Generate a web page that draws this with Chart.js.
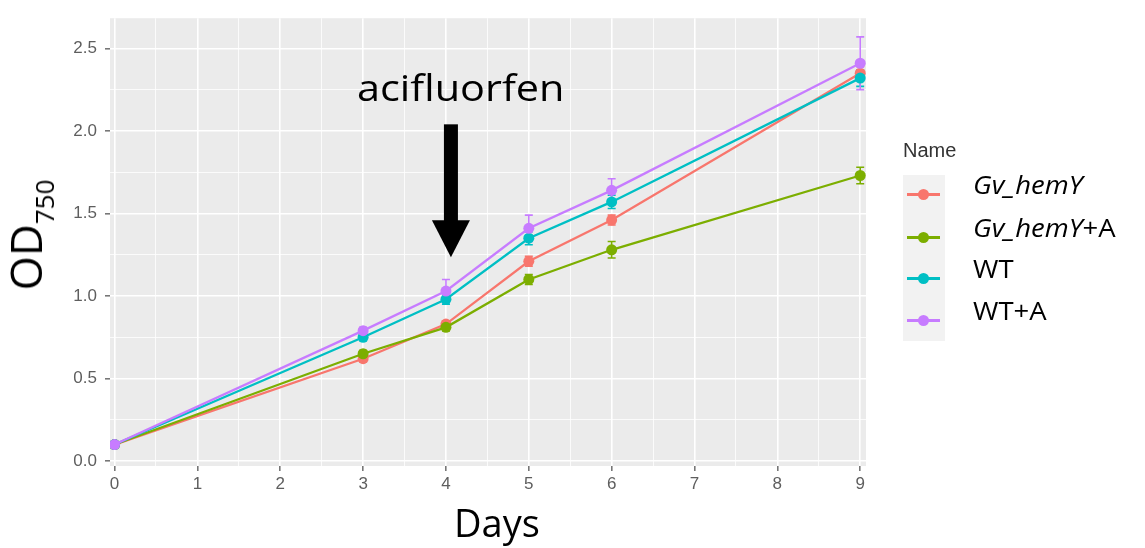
<!DOCTYPE html>
<html>
<head>
<meta charset="utf-8">
<script src="https://cdn.jsdelivr.net/npm/chart.js@4.4.1/dist/chart.umd.min.js"></script>
<style>
body { margin: 0; background: #fff; }
#wrap { position: relative; width: 1145px; height: 548px; }
.txt { position: absolute; font-family: 'Open Sans', sans-serif; color: #000; white-space: nowrap; line-height: 1; }
#note { left: 357px; top: 70px; font-size: 36px; transform: scaleX(1.15); transform-origin: left top; }
#xtitle { left: 454px; top: 503px; font-size: 38px; }
#ytitle { left: 30px; top: 235px; font-size: 44px; transform: translate(-50%, -50%) rotate(-90deg); }
#ytitle sub { font-size: 26px; vertical-align: -12px; }
#legtitle { left: 903px; top: 140px; font-family: 'Liberation Sans', sans-serif; font-size: 20px; color: #333; }
#keybox { position: absolute; left: 903px; top: 175px; width: 42px; height: 166px; background: #f2f2f2; }
.key { position: absolute; left: 907px; width: 33px; height: 10px; }
.key .ln { position: absolute; left: 0; top: 4px; width: 33px; height: 2.5px; }
.key .dt { position: absolute; left: 11px; top: 0; width: 11px; height: 11px; border-radius: 50%; }
.lab { position: absolute; left: 973px; font-size: 25px; transform: scaleX(1.1); transform-origin: left top; }
</style>
</head>
<body>
<div id="wrap">
  <canvas id="chart"></canvas>
  <div id="note" class="txt">acifluorfen</div>
  <div id="xtitle" class="txt">Days</div>
  <div id="ytitle" class="txt">OD<sub>750</sub></div>
  <div id="legtitle" class="txt">Name</div>
  <div id="keybox"></div>
  <div id="legend"></div>
</div>
<script>
// measurement days and tick labels
const days = [0, 3, 4, 5, 6, 9];
const xTicks = [0, 1, 2, 3, 4, 5, 6, 7, 8, 9];
const yTicks = [0, 0.5, 1, 1.5, 2, 2.5];

// OD750 means and error bar half-widths
const names = ['Gv_hemY', 'Gv_hemY+A', 'WT', 'WT+A'];
const colors = ['#F8766D', '#7CAE00', '#00BFC4', '#C77CFF'];
const hemY = [0.10, 0.62, 0.83, 1.21, 1.46, 2.35];
const hemYErr = [0.01, 0.02, 0.02, 0.03, 0.03, 0.04];
const hemYA = [0.10, 0.65, 0.81, 1.10, 1.28, 1.73];
const hemYAErr = [0.01, 0.02, 0.02, 0.03, 0.05, 0.05];
const wt = [0.10, 0.75, 0.98, 1.35, 1.57, 2.32];
const wtErr = [0.01, 0.02, 0.03, 0.04, 0.04, 0.05];
const wtA = [0.10, 0.79, 1.03, 1.41, 1.64, 2.41];
const wtAErr = [0.01, 0.02, 0.07, 0.08, 0.07, 0.16];

// acifluorfen arrow (day, OD top, OD tip)
const arrowDay = 4.06, arrowTop = 2.04, arrowTip = 1.235;

const series = [hemY, hemYA, wt, wtA];
const errs = [hemYErr, hemYAErr, wtErr, wtAErr];

const xMin = -0.055, xMax = 9.07, yMin = -0.03, yMax = 2.683;
const xGrid = xTicks.flatMap(v => [v, v + 0.5]).filter(v => v <= xMax);
const yGrid = yTicks.flatMap(v => [v, v + 0.25]).filter(v => v <= yMax);

const isMajor = (v, step) => Math.abs(v / step - Math.round(v / step)) < 1e-6;

const panelBg = {
	id: 'panelBg',
	beforeDraw(chart){
		const { ctx, chartArea: a } = chart;
		ctx.save();
		ctx.fillStyle = '#ebebeb';
		ctx.fillRect(a.left, a.top, a.right - a.left, a.bottom - a.top);
		ctx.restore();
	}
};

const errorBars = {
	id: 'errorBars',
	beforeDatasetsDraw(chart){
		const { ctx, scales: { x, y } } = chart;
		chart.data.datasets.forEach(ds => {
			ctx.save();
			ctx.strokeStyle = ds.borderColor;
			ctx.lineWidth = 1.6;
			ds.data.forEach((p, j) => {
				const e = ds.errors[j];
				const px = x.getPixelForValue(p.x);
				const top = y.getPixelForValue(p.y + e);
				const bot = y.getPixelForValue(p.y - e);
				ctx.beginPath();
				ctx.moveTo(px, top); ctx.lineTo(px, bot);
				ctx.moveTo(px - 4, top); ctx.lineTo(px + 4, top);
				ctx.moveTo(px - 4, bot); ctx.lineTo(px + 4, bot);
				ctx.stroke();
			});
			ctx.restore();
		});
	}
};

const arrow = {
	id: 'arrow',
	afterDatasetsDraw(chart){
		const { ctx, scales: { x, y } } = chart;
		const px = x.getPixelForValue(arrowDay);
		const top = y.getPixelForValue(arrowTop);
		const tip = y.getPixelForValue(arrowTip);
		const headH = 37;
		ctx.save();
		ctx.fillStyle = '#000';
		ctx.fillRect(px - 7, top, 14, tip - top - headH + 1);
		ctx.beginPath();
		ctx.moveTo(px - 19, tip - headH);
		ctx.lineTo(px + 19, tip - headH);
		ctx.lineTo(px, tip);
		ctx.closePath();
		ctx.fill();
		ctx.restore();
	}
};

const datasets = names.map((n, i) => ({
	label: n,
	data: days.map((d, j) => ({ x: d, y: series[i][j] })),
	errors: errs[i],
	borderColor: colors[i],
	backgroundColor: colors[i],
	pointBackgroundColor: colors[i],
	pointBorderWidth: 0,
	pointRadius: 5.5,
	borderWidth: 2.3,
	tension: 0,
	order: names.length - 1 - i
}));

const tickFont = { family: 'Liberation Sans', size: 17 };

new Chart(document.getElementById('chart').getContext('2d'), {
	type: 'line',
	data: { datasets },
	options: {
		responsive: true,
		maintainAspectRatio: false,
		animation: false,
		layout: { padding: { left: 0, right: 279, top: 13, bottom: 0 } },
		plugins: { legend: { display: false }, tooltip: { enabled: false } },
		scales: {
			x: {
				type: 'linear', min: xMin, max: xMax,
				afterBuildTicks: s => { s.ticks = xGrid.map(v => ({ value: v })); },
				afterFit: s => { s.height = 82; },
				border: { display: false },
				grid: {
					color: '#ffffff',
					lineWidth: c => isMajor(c.tick.value, 1) ? 1.6 : 0.8,
					tickColor: c => isMajor(c.tick.value, 1) ? '#777' : 'rgba(0,0,0,0)',
					tickLength: 5
				},
				ticks: {
					autoSkip: false, maxRotation: 0, padding: 3, color: '#5e5e5e', font: tickFont,
					callback: v => isMajor(v, 1) ? String(v) : ''
				}
			},
			y: {
				min: yMin, max: yMax,
				afterBuildTicks: s => { s.ticks = yGrid.map(v => ({ value: v })); },
				afterFit: s => { s.width = 110; },
				border: { display: false },
				grid: {
					color: '#ffffff',
					lineWidth: c => isMajor(c.tick.value, 0.5) ? 1.6 : 0.8,
					tickColor: c => isMajor(c.tick.value, 0.5) ? '#777' : 'rgba(0,0,0,0)',
					tickLength: 5
				},
				ticks: {
					autoSkip: false, padding: 8, color: '#5e5e5e', font: tickFont,
					callback: v => isMajor(v, 0.5) ? v.toFixed(1) : ''
				}
			}
		}
	},
	plugins: [panelBg, errorBars, arrow]
});

// legend with italic gene names
const legend = document.getElementById('legend');
const keyTops = [189, 232, 273, 315];
names.forEach((n, i) => {
	const key = document.createElement('div');
	key.className = 'key';
	key.style.top = keyTops[i] + 'px';
	key.innerHTML = '<div class="ln" style="background:' + colors[i] + '"></div><div class="dt" style="background:' + colors[i] + '"></div>';
	legend.appendChild(key);
	const lab = document.createElement('div');
	lab.className = 'txt lab';
	lab.style.top = (keyTops[i] - 17) + 'px';
	lab.innerHTML = n.replace('Gv_hemY', '<i>Gv_hemY</i>');
	legend.appendChild(lab);
});
</script>
</body>
</html>
